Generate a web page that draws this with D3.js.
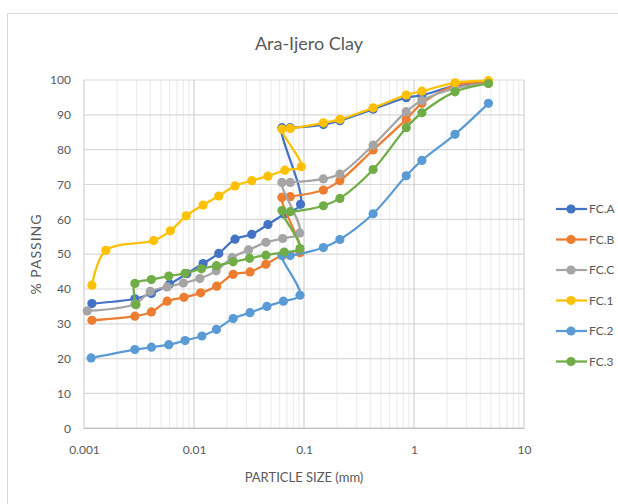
<!DOCTYPE html>
<html>
<head>
<meta charset="utf-8">
<script src="https://cdn.jsdelivr.net/npm/d3@7"></script>
<style>
  html, body { margin: 0; padding: 0; background: #fff; }
  svg { display: block; font-family: Lato, "Open Sans", sans-serif; }
</style>
</head>
<body>
<svg id="chart" width="618" height="504"></svg>
<script>
// Grain-size distribution curves: sieve analysis followed by hydrometer readings
const seriesNames = ["FC.A", "FC.B", "FC.C", "FC.1", "FC.2", "FC.3"];
const seriesColors = ["#4472C4", "#ED7D31", "#A5A5A5", "#FFC000", "#5B9BD5", "#70AD47"];

// sieve openings (mm), coarse to fine
const sieveSizes = [4.75, 2.36, 1.18, 0.85, 0.425, 0.212, 0.15, 0.075, 0.063];

// % passing on each sieve
const sievePassA = [99.3, 98.3, 95.6, 94.9, 91.6, 88.3, 87.2, 86.3, 86.3];
const sievePassB = [99.3, 98.4, 93.3, 88.7, 79.9, 71.1, 68.4, 66.5, 66.3];
const sievePassC = [99.0, 97.6, 94.1, 90.9, 81.3, 73.0, 71.6, 70.6, 70.6];
const sievePass1 = [99.8, 99.2, 96.8, 95.7, 92.0, 88.7, 87.7, 86.1, 85.9];
const sievePass2 = [93.3, 84.4, 76.9, 72.5, 61.6, 54.2, 51.9, 49.6, 49.6];
const sievePass3 = [99.0, 96.6, 90.6, 86.3, 74.3, 66.0, 63.9, 62.2, 62.5];

// hydrometer equivalent diameters (mm) and % finer
const hydroSizeA = [0.093, 0.066, 0.047, 0.0335, 0.0236, 0.0168, 0.0121, 0.0086, 0.0060, 0.0041, 0.0029, 0.00118];
const hydroPassA = [64.3, 61.5, 58.5, 55.7, 54.3, 50.2, 47.3, 44.4, 41.4, 38.7, 37.2, 35.8];
const hydroSizeB = [0.092, 0.064, 0.045, 0.0323, 0.0227, 0.0161, 0.0115, 0.0081, 0.0057, 0.0041, 0.0029, 0.00118];
const hydroPassB = [50.4, 49.7, 47.1, 44.9, 44.2, 40.8, 38.9, 37.6, 36.5, 33.4, 32.2, 31.0];
const hydroSizeC = [0.0915, 0.064, 0.045, 0.0313, 0.0222, 0.0159, 0.0113, 0.0080, 0.0057, 0.0040, 0.0029, 0.00107];
const hydroPassC = [56.1, 54.5, 53.4, 51.2, 49.0, 45.2, 43.0, 41.7, 40.6, 39.3, 35.7, 33.7];
const hydroSize1 = [0.0945, 0.067, 0.047, 0.0335, 0.0236, 0.0168, 0.0121, 0.0085, 0.0061, 0.0043, 0.00158, 0.00118];
const hydroPass1 = [75.1, 74.1, 72.4, 71.1, 69.6, 66.7, 64.1, 61.0, 56.7, 53.9, 51.1, 41.1];
const hydroSize2 = [0.092, 0.065, 0.046, 0.0323, 0.0227, 0.016, 0.0118, 0.0083, 0.0059, 0.0041, 0.0029, 0.00116];
const hydroPass2 = [38.2, 36.5, 35.0, 33.2, 31.5, 28.4, 26.5, 25.2, 24.0, 23.3, 22.6, 20.2];
const hydroSize3 = [0.092, 0.066, 0.045, 0.032, 0.0227, 0.016, 0.0117, 0.0083, 0.0059, 0.0041, 0.0029, 0.00297];
const hydroPass3 = [51.6, 50.6, 49.7, 48.8, 47.8, 46.7, 45.8, 44.5, 43.7, 42.7, 41.6, 35.5];

const xTickValues = [0.001, 0.01, 0.1, 1, 10];
const xTickLabels = ["0.001", "0.01", "0.1", "1", "10"];
const yTickValues = [0, 10, 20, 30, 40, 50, 60, 70, 80, 90, 100];

const sievePass = [sievePassA, sievePassB, sievePassC, sievePass1, sievePass2, sievePass3];
const hydroSize = [hydroSizeA, hydroSizeB, hydroSizeC, hydroSize1, hydroSize2, hydroSize3];
const hydroPass = [hydroPassA, hydroPassB, hydroPassC, hydroPass1, hydroPass2, hydroPass3];

const series = seriesNames.map((name, i) => ({
  name,
  color: seriesColors[i],
  points: sieveSizes.map((s, j) => ({ size: s, pass: sievePass[i][j] }))
    .concat(hydroSize[i].map((s, j) => ({ size: s, pass: hydroPass[i][j] })))
}));

const svg = d3.select("#chart");
const textColor = "#595959";

// outer chart frame
svg.append("rect")
  .attr("x", 7.5).attr("y", 13.5).attr("width", 700).attr("height", 600)
  .attr("fill", "#fff").attr("stroke", "#D9D9D9").attr("stroke-width", 1);

const x = d3.scaleLog().domain([0.001, 10]).range([84, 524]);
const y = d3.scaleLinear().domain([0, 100]).range([428.3, 80]);

const grid = svg.append("g");

// minor vertical gridlines (2..9 within each decade)
const minor = [];
for (let e = -3; e < 1; e++) {
  for (let k = 2; k <= 9; k++) minor.push(k * Math.pow(10, e));
}
grid.selectAll("line.minor").data(minor).join("line")
  .attr("class", "minor")
  .attr("x1", d => x(d)).attr("x2", d => x(d))
  .attr("y1", y(0)).attr("y2", y(100))
  .attr("stroke", "#EDEDED").attr("stroke-width", 1.2);

// horizontal gridlines
grid.selectAll("line.h").data(yTickValues).join("line")
  .attr("class", "h")
  .attr("x1", x(0.001)).attr("x2", x(10))
  .attr("y1", d => y(d)).attr("y2", d => y(d))
  .attr("stroke", "#D9D9D9").attr("stroke-width", 1.2);

// major vertical gridlines
grid.selectAll("line.major").data(xTickValues).join("line")
  .attr("class", "major")
  .attr("x1", d => x(d)).attr("x2", d => x(d))
  .attr("y1", y(0)).attr("y2", y(100))
  .attr("stroke", "#D0D0D0").attr("stroke-width", 1.2);

// bottom axis line
grid.append("line")
  .attr("x1", x(0.001)).attr("x2", x(10))
  .attr("y1", y(0)).attr("y2", y(0))
  .attr("stroke", "#BFBFBF").attr("stroke-width", 1.2);

// axes
const xAxis = d3.axisBottom(x).tickValues(xTickValues)
  .tickFormat((d, i) => xTickLabels[i]).tickSize(0).tickPadding(17);
svg.append("g").attr("transform", `translate(0,${y(0)})`).call(xAxis)
  .call(g => g.select(".domain").remove())
  .call(g => g.selectAll("text").attr("fill", textColor)
    .style("font-family", "Lato, sans-serif").style("font-size", "12px"));

const yAxis = d3.axisLeft(y).tickValues(yTickValues).tickSize(0).tickPadding(13);
svg.append("g").attr("transform", `translate(${x(0.001)},0)`).call(yAxis)
  .call(g => g.select(".domain").remove())
  .call(g => g.selectAll("text").attr("fill", textColor)
    .style("font-family", "Lato, sans-serif").style("font-size", "12px"));

// series lines and markers
const line = d3.line()
  .x(d => x(d.size)).y(d => y(d.pass))
  .curve(d3.curveCatmullRom.alpha(0.5));

const plot = svg.append("g");
series.forEach(s => {
  const g = plot.append("g");
  g.append("path").datum(s.points)
    .attr("d", line)
    .attr("fill", "none").attr("stroke", s.color)
    .attr("stroke-width", 2.25).attr("stroke-linejoin", "round");
  g.selectAll("circle").data(s.points).join("circle")
    .attr("cx", d => x(d.size)).attr("cy", d => y(d.pass))
    .attr("r", 4.6).attr("fill", s.color);
});

// title
svg.append("text")
  .attr("x", 309).attr("y", 50)
  .attr("text-anchor", "middle").attr("fill", textColor)
  .style("font-size", "18px")
  .text("Ara-Ijero Clay");

// axis titles
svg.append("text")
  .attr("x", 304).attr("y", 482)
  .attr("text-anchor", "middle").attr("fill", textColor)
  .style("font-size", "13px")
  .text("PARTICLE SIZE (mm)");

svg.append("text")
  .attr("transform", `translate(41,254) rotate(-90)`)
  .attr("text-anchor", "middle").attr("fill", textColor)
  .style("font-size", "14px").style("letter-spacing", "1px")
  .text("% PASSING");

// legend
const legend = svg.append("g");
series.forEach((s, i) => {
  const ly = 209 + i * 30.5;
  legend.append("line")
    .attr("x1", 556).attr("x2", 587).attr("y1", ly).attr("y2", ly)
    .attr("stroke", s.color).attr("stroke-width", 2.25);
  legend.append("circle")
    .attr("cx", 571).attr("cy", ly).attr("r", 4.6).attr("fill", s.color);
  legend.append("text")
    .attr("x", 589).attr("y", ly + 4.2)
    .attr("fill", textColor).style("font-size", "12px")
    .text(s.name);
});
</script>
</body>
</html>
